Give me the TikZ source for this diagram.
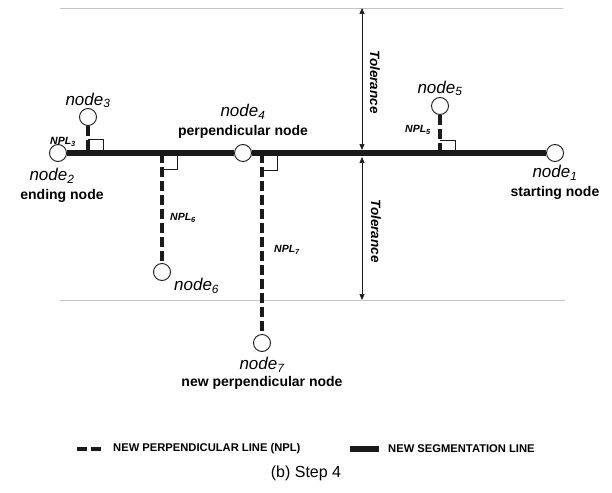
\documentclass[tikz,border=0pt]{standalone}
\usepackage{fontspec}
\setmainfont{Liberation Sans}
\usepackage{tikz}
\usetikzlibrary{arrows.meta, positioning, calc}
\definecolor{ink}{HTML}{1A1A1A}
\definecolor{guidegray}{HTML}{C4C4C4}

\tikzset{
  vtx/.style={circle, draw=ink, fill=white, line width=0.9pt, minimum size=17pt, inner sep=0pt},
  segline/.style={ink, line width=6pt},
  npl/.style={ink, line width=3.8pt, dash pattern=on 10pt off 4pt},
  guide/.style={guidegray, line width=0.8pt},
  tolarrow/.style={ink, line width=0.7pt, {Triangle[length=6pt,width=5pt]}-{Triangle[length=6pt,width=5pt]}},
  rangle/.style={ink, line width=0.9pt},
  nodelbl/.style={font=\fontsize{17}{19}\selectfont\itshape, inner sep=1pt},
  rolelbl/.style={font=\fontsize{14}{16}\selectfont\bfseries, inner sep=1pt},
  npllbl/.style={font=\fontsize{10.5}{12}\selectfont\bfseries\itshape, inner sep=1pt},
  tollbl/.style={font=\fontsize{13.5}{15}\selectfont\bfseries\itshape, rotate=-90, inner sep=1pt},
  legendtxt/.style={font=\fontsize{11.2}{13}\selectfont\bfseries, anchor=west, inner sep=0pt}
}

\begin{document}
\begin{tikzpicture}[x=1pt, y=-1pt]
\useasboundingbox (0,0) rectangle (612,492);

% tolerance band
\coordinate (g1) at (60,8);   \coordinate (g2) at (563,8);
\coordinate (g3) at (60,300); \coordinate (g4) at (565,300);
\draw[guide] (g1) -- (g2);
\draw[guide] (g3) -- (g4);

\coordinate (t1) at (362,8);
\coordinate (t2) at (362,150);
\coordinate (t3) at (362,157);
\coordinate (t4) at (362,300);
\draw[tolarrow] (t1) -- (t2);
\draw[tolarrow] (t3) -- (t4);
\node[tollbl] (tolup) at (375,82) {Tolerance};
\node[tollbl] (toldown) at (376,231) {Tolerance};

% feet of the perpendiculars
\coordinate (f3) at (88,153);
\coordinate (f5) at (440,153);
\coordinate (f6) at (162,153);
\coordinate (f7) at (262,153);

% nodes
\node[vtx] (n1) at (555,153) {};
\node[vtx] (n2) at (58,153) {};
\node[vtx] (n3) at (88,117) {};
\node[vtx] (n4) at (243,153) {};
\node[vtx] (n5) at (440,106) {};
\node[vtx] (n6) at (162,272) {};
\node[vtx] (n7) at (262,343) {};

% segmentation line
\draw[segline] (n2) -- (n4);
\draw[segline] (n4) -- (n1);

% perpendicular lines
\draw[npl] (n3) -- (f3);
\draw[npl] (n5) -- (f5);
\draw[npl] (f6) -- (n6);
\draw[npl] (f7) -- (n7);

% right angle marks
\draw[rangle] (f3) ++(0,-14) -| ++(15,14);
\draw[rangle] (f5) ++(0,-13) -| ++(15,13);
\draw[rangle] (f6) ++(0,16) -| ++(15,-16);
\draw[rangle] (f7) ++(0,17) -| ++(15,-17);

% labels
\node[nodelbl, below=2pt of n1] (l1) {node\textsubscript{1}};
\node[rolelbl, below=4pt of l1] (r1) {starting node};
\node[nodelbl, below=5pt of n2, xshift=-6pt] (l2) {node\textsubscript{2}};
\node[rolelbl, below=4pt of l2, xshift=10pt] (r2) {ending node};
\node[nodelbl, above=-1pt of n3] (l3) {node\textsubscript{3}};
\node[rolelbl, above=4pt of n4] (r4) {perpendicular node};
\node[nodelbl, above=4pt of r4] (l4) {node\textsubscript{4}};
\node[nodelbl, above=0pt of n5] (l5) {node\textsubscript{5}};
\node[nodelbl, anchor=north west] (l6) at ([xshift=2pt,yshift=-5pt]n6.east) {node\textsubscript{6}};
\node[nodelbl, below=4pt of n7] (l7) {node\textsubscript{7}};
\node[rolelbl, below=2pt of l7] (r7) {new perpendicular node};

\node[npllbl] (p3) at (63,142) {NPL\textsubscript{3}};
\node[npllbl, anchor=east] (p5) at (432,130) {NPL\textsubscript{5}};
\node[npllbl, anchor=west] (p6) at (169,218) {NPL\textsubscript{6}};
\node[npllbl, anchor=west] (p7) at (273,250) {NPL\textsubscript{7}};

% legend
\coordinate (k1) at (77,449);  \coordinate (k2) at (101,449);
\coordinate (k3) at (350,449); \coordinate (k4) at (379,449);
\draw[npl] (k1) -- (k2);
\node[legendtxt] (kt1) at (113,449) {NEW PERPENDICULAR LINE (NPL)};
\draw[segline] (k3) -- (k4);
\node[legendtxt] (kt2) at (388,449) {NEW SEGMENTATION LINE};

\node[font=\fontsize{16}{18}\selectfont] (cap) at (306,473) {(b) Step 4};
\end{tikzpicture}
\end{document}
